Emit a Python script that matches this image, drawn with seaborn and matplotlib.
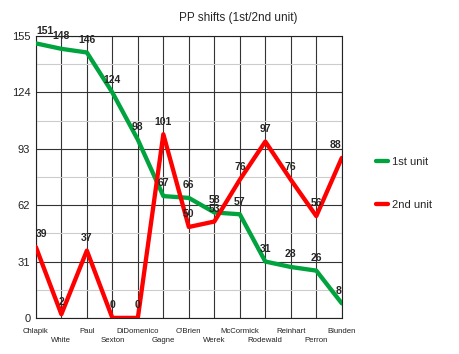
#!/usr/bin/env python3
import matplotlib

matplotlib.use("Agg")
import matplotlib.pyplot as plt
import pandas as pd
import seaborn as sns
from matplotlib.ticker import MultipleLocator

players = [
    "Chlapik", "White", "Paul", "Sexton", "DiDomenico", "Gagne", "O'Brien",
    "Werek", "McCormick", "Rodewald", "Reinhart", "Perron", "Blunden",
]
first_unit = [151, 148, 146, 124, 98, 67, 66, 58, 57, 31, 28, 26, 8]
second_unit = [39, 2, 37, 0, 0, 101, 50, 53, 76, 97, 76, 56, 88]
y_ticks = [0, 31, 62, 93, 124, 155]

colors = {"1st unit": "#00a33d", "2nd unit": "#ff0000"}


def main():
    sns.set_style("white")
    plt.rcParams["font.family"] = ["Liberation Sans", "DejaVu Sans"]

    df = pd.DataFrame(
        {
            "x": list(range(len(players))) * 2,
            "value": first_unit + second_unit,
            "unit": ["1st unit"] * len(players) + ["2nd unit"] * len(players),
        }
    )

    fig = plt.figure(figsize=(4.6, 3.54), dpi=100)
    ax = fig.add_axes([0.078, 0.102, 0.665, 0.796])

    sns.lineplot(
        data=df, x="x", y="value", hue="unit", palette=colors,
        linewidth=3.1, ax=ax, legend=False, zorder=3,
    )

    last = len(players) - 1
    for unit, values in [("1st unit", first_unit), ("2nd unit", second_unit)]:
        for i, v in enumerate(values):
            ha = "left" if i == 0 else ("right" if i == last else "center")
            ax.annotate(
                str(v), (i, v), xytext=(0, 5.5), textcoords="offset points",
                ha=ha, va="bottom", fontsize=7.5, fontweight="bold", zorder=5,
            )

    ax.set_xlim(0, last)
    ax.set_ylim(0, 155)
    ax.set_xticks(range(len(players)))
    ax.set_xticklabels(players, fontsize=5.6)
    ax.set_yticks(y_ticks)
    ax.yaxis.set_minor_locator(MultipleLocator(15.5))
    ax.tick_params(axis="y", labelsize=8, length=3, width=0.8, pad=1,
                   colors="#222222")
    ax.tick_params(axis="x", length=6, width=0.8, pad=1, colors="#222222")
    ax.tick_params(which="minor", length=0)
    # staggered category labels: odd ones go on a second row
    for tick in ax.xaxis.get_major_ticks()[1::2]:
        tick.set_pad(8)

    ax.grid(which="major", axis="both", color="#333333", linewidth=0.8)
    ax.grid(which="minor", axis="y", color="#cccccc", linewidth=0.8)
    ax.set_axisbelow(True)

    for side in ["left", "bottom", "top", "right"]:
        ax.spines[side].set_visible(True)
        ax.spines[side].set_color("#222222")
        ax.spines[side].set_linewidth(0.8)

    ax.set_xlabel("")
    ax.set_ylabel("")
    fig.text(0.517, 0.949, "PP shifts (1st/2nd unit)", ha="center",
             va="center", fontsize=8.5)

    handles = [
        plt.Line2D([], [], color=colors[k], linewidth=3.1) for k in colors
    ]
    fig.legend(
        handles, list(colors), loc="upper left", bbox_to_anchor=(0.795, 0.585),
        frameon=False, fontsize=8, handlelength=1.1, handletextpad=0.35,
        labelspacing=3.0,
    )

    fig.savefig("out.png", dpi=100)
    plt.close(fig)


if __name__ == "__main__":
    main()
